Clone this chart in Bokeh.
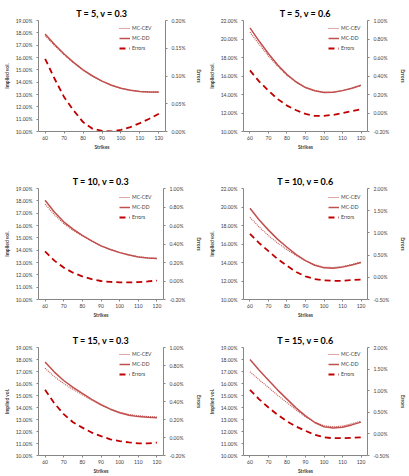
from bokeh.plotting import figure
from bokeh.models import (Range1d, LinearAxis, SingleIntervalTicker, PrintfTickFormatter,
                          Legend, LegendItem, ColumnDataSource)
from bokeh.layouts import column, row
from bokeh.embed import file_html
from bokeh.resources import INLINE

strikes = [60, 65, 70, 75, 80, 85, 90, 95, 100, 105, 110, 115, 120]

# T = 5, v = 0.3
t5_v03_cev = [17.77, 16.96, 16.22, 15.56, 14.98, 14.50, 14.08, 13.75, 13.50, 13.34, 13.24, 13.18, 13.17]
t5_v03_dd = [17.90, 17.05, 16.28, 15.60, 15.00, 14.50, 14.08, 13.75, 13.50, 13.35, 13.25, 13.20, 13.20]
t5_v03_err = [0.131, 0.095, 0.062, 0.038, 0.017, 0.005, 0.001, 0.000, 0.003, 0.008, 0.015, 0.023, 0.032]

# T = 5, v = 0.6
t5_v06_cev = [20.74, 19.41, 18.16, 17.05, 16.07, 15.32, 14.76, 14.43, 14.25, 14.27, 14.42, 14.66, 14.96]
t5_v06_dd = [21.20, 19.75, 18.40, 17.20, 16.15, 15.35, 14.75, 14.40, 14.22, 14.25, 14.42, 14.68, 15.00]
t5_v06_err = [0.46, 0.34, 0.24, 0.15, 0.08, 0.03, -0.01, -0.03, -0.03, -0.02, 0.00, 0.02, 0.04]

# T = 10, v = 0.3
t10_v03_cev = [17.73, 16.88, 16.16, 15.61, 15.15, 14.73, 14.35, 14.06, 13.82, 13.62, 13.46, 13.38, 13.33]
t10_v03_dd = [18.05, 17.10, 16.30, 15.70, 15.20, 14.75, 14.35, 14.05, 13.80, 13.60, 13.45, 13.37, 13.33]
t10_v03_err = [0.32, 0.22, 0.145, 0.09, 0.05, 0.02, 0.00, -0.01, -0.015, -0.015, -0.012, -0.005, 0.005]

# T = 10, v = 0.6
t10_v06_cev = [18.88, 17.83, 16.91, 16.09, 15.39, 14.73, 14.18, 13.74, 13.49, 13.46, 13.58, 13.78, 14.05]
t10_v06_dd = [19.86, 18.60, 17.50, 16.50, 15.65, 14.85, 14.20, 13.70, 13.42, 13.38, 13.50, 13.72, 14.00]
t10_v06_err = [0.98, 0.77, 0.59, 0.41, 0.26, 0.12, 0.02, -0.04, -0.07, -0.08, -0.08, -0.06, -0.05]

# T = 15, v = 0.3
t15_v03_cev = [17.27, 16.57, 15.99, 15.51, 15.06, 14.63, 14.22, 13.88, 13.60, 13.42, 13.31, 13.25, 13.21]
t15_v03_dd = [17.80, 16.95, 16.25, 15.68, 15.17, 14.68, 14.23, 13.86, 13.56, 13.36, 13.24, 13.18, 13.15]
t15_v03_err = [0.53, 0.38, 0.26, 0.17, 0.11, 0.055, 0.015, -0.02, -0.04, -0.055, -0.065, -0.065, -0.057]

# T = 15, v = 0.6
t15_v06_cev = [16.98, 16.30, 15.67, 15.01, 14.41, 13.78, 13.23, 12.77, 12.48, 12.40, 12.45, 12.64, 12.86]
t15_v06_dd = [18.00, 17.10, 16.28, 15.45, 14.70, 13.95, 13.30, 12.75, 12.40, 12.30, 12.35, 12.55, 12.78]
t15_v06_err = [1.02, 0.80, 0.61, 0.44, 0.29, 0.17, 0.07, -0.02, -0.08, -0.10, -0.10, -0.09, -0.08]

titles = ["T = 5, v = 0.3", "T = 5, v = 0.6", "T = 10, v = 0.3",
          "T = 10, v = 0.6", "T = 15, v = 0.3", "T = 15, v = 0.6"]
series_names = ["MC-CEV", "MC-DD", "Errors"]
x_ticks = [60, 70, 80, 90, 100, 110, 120]
vol_ranges = [(10, 19, 1), (10, 22, 2), (10, 19, 1), (10, 22, 2), (10, 19, 1), (10, 19, 1)]
err_ranges = [(0, 0.2, 0.05), (-0.2, 1.0, 0.2), (-0.2, 1.0, 0.2),
              (-0.5, 2.0, 0.5), (-0.2, 1.0, 0.2), (-0.5, 2.0, 0.5)]

data = [
    (t5_v03_cev, t5_v03_dd, t5_v03_err),
    (t5_v06_cev, t5_v06_dd, t5_v06_err),
    (t10_v03_cev, t10_v03_dd, t10_v03_err),
    (t10_v06_cev, t10_v06_dd, t10_v06_err),
    (t15_v03_cev, t15_v03_dd, t15_v03_err),
    (t15_v06_cev, t15_v06_dd, t15_v06_err),
]

FONT = "Lato"
AXIS_COLOR = "#868686"
LABEL_COLOR = "#404040"
DD_COLOR = "#C0504D"
CEV_COLOR = "#C0504D"
ERR_COLOR = "#C00000"

# layout geometry per row / column
row_geo = [  # height, top border, bottom border, legend top offset
    (160, 20, 29, 4),
    (160, 28, 20, 6),
    (156, 27, 17, 7),
]
col_geo = [  # width, left border, right border, legend x offset
    (205, 34, 35, 81),
    (204, 32, 36, 85),
]


def style_axis(ax, label, standoff):
    ax.axis_label = label
    ax.axis_label_text_font = FONT
    ax.axis_label_text_font_size = "5px"
    ax.axis_label_text_font_style = "bold"
    ax.axis_label_text_color = LABEL_COLOR
    ax.axis_label_standoff = standoff
    ax.major_label_text_font = FONT
    ax.major_label_text_font_size = "5px"
    ax.major_label_text_color = LABEL_COLOR
    ax.major_label_standoff = 2
    ax.axis_line_color = AXIS_COLOR
    ax.major_tick_line_color = AXIS_COLOR
    ax.major_tick_out = 2
    ax.major_tick_in = 0
    ax.minor_tick_line_color = None


def make_panel(i):
    r, c = divmod(i, 2)
    h, bt, bb, leg_top = row_geo[r]
    w, bl, br, leg_x = col_geo[c]
    vlo, vhi, vstep = vol_ranges[i]
    elo, ehi, estep = err_ranges[i]
    cev, dd, err = data[i]

    p = figure(width=w, height=h, output_backend="svg", toolbar_location=None,
               min_border_left=bl, min_border_right=br,
               min_border_top=bt, min_border_bottom=bb,
               x_range=Range1d(56.5, 123.5), y_range=Range1d(vlo, vhi))
    p.extra_y_ranges = {"err": Range1d(elo, ehi)}
    p.outline_line_color = None
    p.xgrid.visible = False
    p.ygrid.visible = False
    p.background_fill_color = "white"
    p.border_fill_color = "white"

    p.title.text = titles[i]
    p.title.align = "center"
    p.title.text_font = FONT
    p.title.text_font_size = "9px"
    p.title.text_font_style = "bold"
    p.title.text_color = "#000000"
    p.title.standoff = 3

    src = ColumnDataSource(dict(x=strikes, cev=cev, dd=dd, err=err))
    r_cev = p.line("x", "cev", source=src, line_color=CEV_COLOR, line_width=1.1,
                   line_dash="1 1")
    r_dd = p.line("x", "dd", source=src, line_color=DD_COLOR, line_width=1.5)
    r_err = p.line("x", "err", source=src, y_range_name="err", line_color=ERR_COLOR,
                   line_width=1.8, line_dash="6 4")

    p.xaxis.ticker = x_ticks
    style_axis(p.xaxis[0], "Strikes", 1)
    p.yaxis.ticker = SingleIntervalTicker(interval=vstep)
    p.yaxis.formatter = PrintfTickFormatter(format="%.2f%%")
    style_axis(p.yaxis[0], "Implied vol.", 3)

    rax = LinearAxis(y_range_name="err",
                     ticker=SingleIntervalTicker(interval=estep),
                     formatter=PrintfTickFormatter(format="%.2f%%"))
    style_axis(rax, "Errors", 8)
    p.add_layout(rax, "right")

    frame_h = h - bt - bb
    leg_h = 3 * 8 + 2 * 2
    legend = Legend(items=[LegendItem(label=series_names[0], renderers=[r_cev]),
                           LegendItem(label=series_names[1], renderers=[r_dd]),
                           LegendItem(label=series_names[2], renderers=[r_err])],
                    location=(leg_x, frame_h - leg_top - leg_h))
    legend.background_fill_alpha = 0
    legend.border_line_color = None
    legend.padding = 0
    legend.margin = 0
    legend.spacing = 2
    legend.glyph_width = 11
    legend.glyph_height = 8
    legend.label_height = 8
    legend.label_standoff = 2
    legend.label_text_font = FONT
    legend.label_text_font_size = "5px"
    legend.label_text_color = LABEL_COLOR
    p.add_layout(legend)
    return p


panels = [make_panel(i) for i in range(6)]
layout = column(row(panels[0], panels[1], spacing=0),
                row(panels[2], panels[3], spacing=0),
                row(panels[4], panels[5], spacing=0), spacing=0)

open("out.html", "w").write(file_html(layout, INLINE))
